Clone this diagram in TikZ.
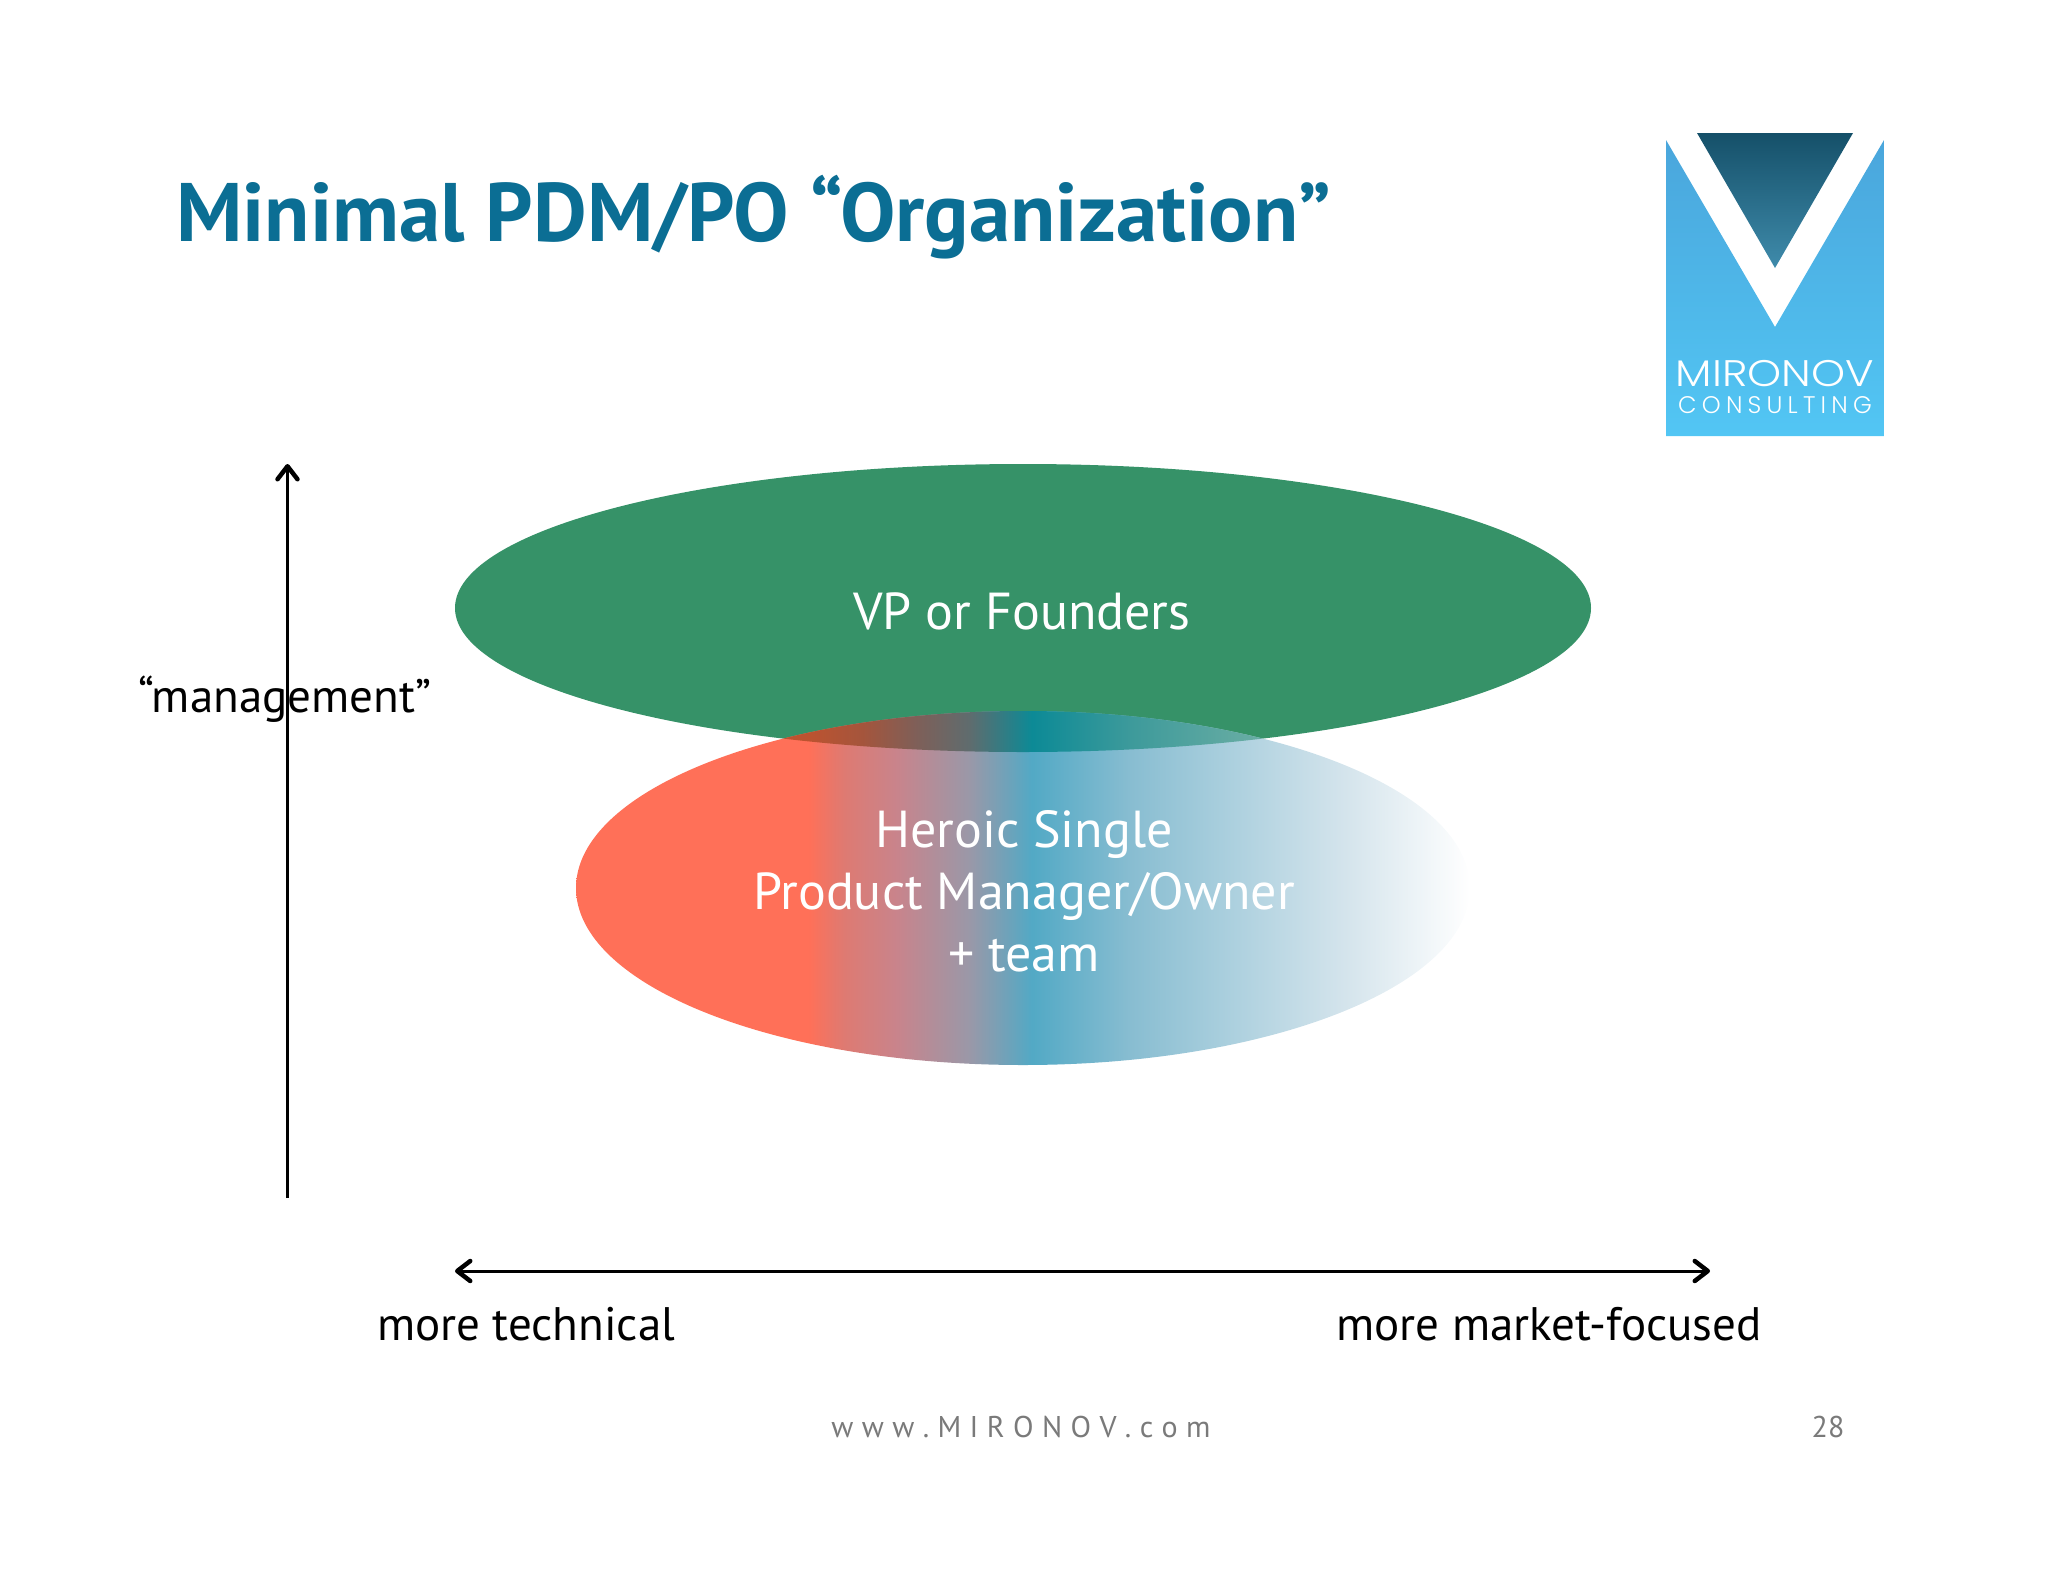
\documentclass[tikz,border=0pt]{standalone}
\usepackage{fontspec}
\setmainfont{PT Sans}
\newfontfamily\logofont{Poppins Light}
\usetikzlibrary{arrows.meta}
\definecolor{titleblue}{HTML}{0B6E94}
\definecolor{greenfill}{HTML}{369268}
\definecolor{footgray}{HTML}{7A7A7A}
\definecolor{logotop}{HTML}{4AA6DC}
\definecolor{logobot}{HTML}{52C6F4}
\definecolor{darktop}{HTML}{155069}
\definecolor{darkbot}{HTML}{3F8BAB}
\definecolor{ha}{HTML}{FF7058}
\definecolor{hb}{HTML}{DE7A72}
\definecolor{hc}{HTML}{C8848C}
\definecolor{hd}{HTML}{9A98A8}
\definecolor{he}{HTML}{52A9C5}
\definecolor{hf}{HTML}{88BDD1}
\definecolor{hg}{HTML}{AED1DF}
\definecolor{hh}{HTML}{D4E4EC}
\definecolor{hi}{HTML}{FFFFFF}
\definecolor{oa}{HTML}{BC5330}
\definecolor{ob}{HTML}{A5553C}
\definecolor{oc}{HTML}{7F5F58}
\definecolor{od}{HTML}{5F6C6E}
\definecolor{oe}{HTML}{0C8A96}
\definecolor{of}{HTML}{3D9A9B}
\definecolor{og}{HTML}{62AAA2}
\definecolor{oh}{HTML}{7CB6AC}
\pgfdeclarehorizontalshading{heroic}{100bp}{
 color(0bp)=(ha);
 color(25bp)=(ha);
 color(38bp)=(ha);
 color(40bp)=(hb);
 color(43bp)=(hc);
 color(47bp)=(hd);
 color(50.5bp)=(he);
 color(56bp)=(hf);
 color(62bp)=(hg);
 color(68bp)=(hh);
 color(75bp)=(hi);
 color(100bp)=(hi)}
\pgfdeclarehorizontalshading{heroicover}{100bp}{
 color(0bp)=(oa);
 color(25bp)=(oa);
 color(38bp)=(oa);
 color(41bp)=(ob);
 color(44bp)=(oc);
 color(47bp)=(od);
 color(50.5bp)=(oe);
 color(56bp)=(of);
 color(62bp)=(og);
 color(68bp)=(oh);
 color(100bp)=(oh)}
\tikzset{
 bodytext/.style={font=\fontsize{52}{62}\selectfont,text=white,align=center,inner sep=0pt},
 axistext/.style={font=\fontsize{47}{54}\selectfont,text=black,inner sep=0pt},
 axisline/.style={line width=3pt,draw=black,{Straight Barb[length=13pt,width=20pt,line width=4.5pt,round]}-{Straight Barb[length=13pt,width=20pt,line width=4.5pt,round]}},
 vline/.style={line width=3pt,draw=black,-{Straight Barb[length=13pt,width=20pt,line width=4.5pt,round]}},
}
\begin{document}
\begin{tikzpicture}[x=1pt,y=-1pt]
\useasboundingbox (0,0) rectangle (2048,1582);
% logo
\path[top color=logotop,bottom color=logobot] (1666,140) -- (1775,327) -- (1884,140) -- (1884,436) -- (1666,436) -- cycle;
\path[top color=darktop,bottom color=darkbot] (1697,133) -- (1853,133) -- (1775,268) -- cycle;
\node[font=\logofont\fontsize{37}{37}\selectfont,text=white,inner sep=0pt,anchor=base] (logoa) at (1775,386) {\scalebox{1.17}[1]{MIRONOV}};
\node[font=\logofont\fontsize{24}{24}\selectfont,text=white,inner sep=0pt,anchor=base] (logob) at (1775,413) {C\kern5.2pt O\kern5.2pt N\kern5.2pt S\kern5.2pt U\kern5.2pt L\kern5.2pt T\kern5.2pt I\kern5.2pt N\kern5.2pt G};
% title
\node[font=\bfseries\fontsize{83}{83}\selectfont,text=titleblue,inner sep=0pt,anchor=base west] (title) at (176,241.5) {Minimal PDM/PO “Organization”};
% ellipses
\fill[greenfill] (1023,608) ellipse [x radius=568,y radius=144];
\shade[shading=heroic] (1023,888) ellipse [x radius=447,y radius=177];
\begin{scope}
\clip (1023,608) ellipse [x radius=568,y radius=144];
\shade[shading=heroicover] (1023,888) ellipse [x radius=447,y radius=177];
\end{scope}
\node[bodytext] (vp) at (1022,611) {VP or Founders};
\node[bodytext] (hero) at (1024,891) {Heroic Single\\Product Manager/Owner\\+ team};
% axes
\coordinate (vs) at (287.5,1198);
\coordinate (ve) at (287.5,464);
\draw[vline] (vs) -- (ve);
\coordinate (hs) at (455,1271);
\coordinate (he) at (1710,1271);
\draw[axisline] (hs) -- (he);
\node[axistext,anchor=base] (mgmt) at (285,712) {“management”};
\node[axistext,anchor=base] (tech) at (526,1340) {more technical};
\node[axistext,anchor=base] (mkt) at (1549,1340) {more market-focused};
% footer
\node[font=\fontsize{30}{30}\selectfont,text=footgray,inner sep=0pt,anchor=base] (foot) at (1021,1437) {w\kern8.4pt w\kern8.4pt w\kern8.4pt .\kern8.4pt M\kern8.4pt I\kern8.4pt R\kern8.4pt O\kern8.4pt N\kern8.4pt O\kern8.4pt V\kern8.4pt .\kern8.4pt c\kern8.4pt o\kern8.4pt m};
\node[font=\fontsize{30}{30}\selectfont,text=footgray,inner sep=0pt,anchor=base] (page) at (1828,1437) {28};
\end{tikzpicture}
\end{document}
